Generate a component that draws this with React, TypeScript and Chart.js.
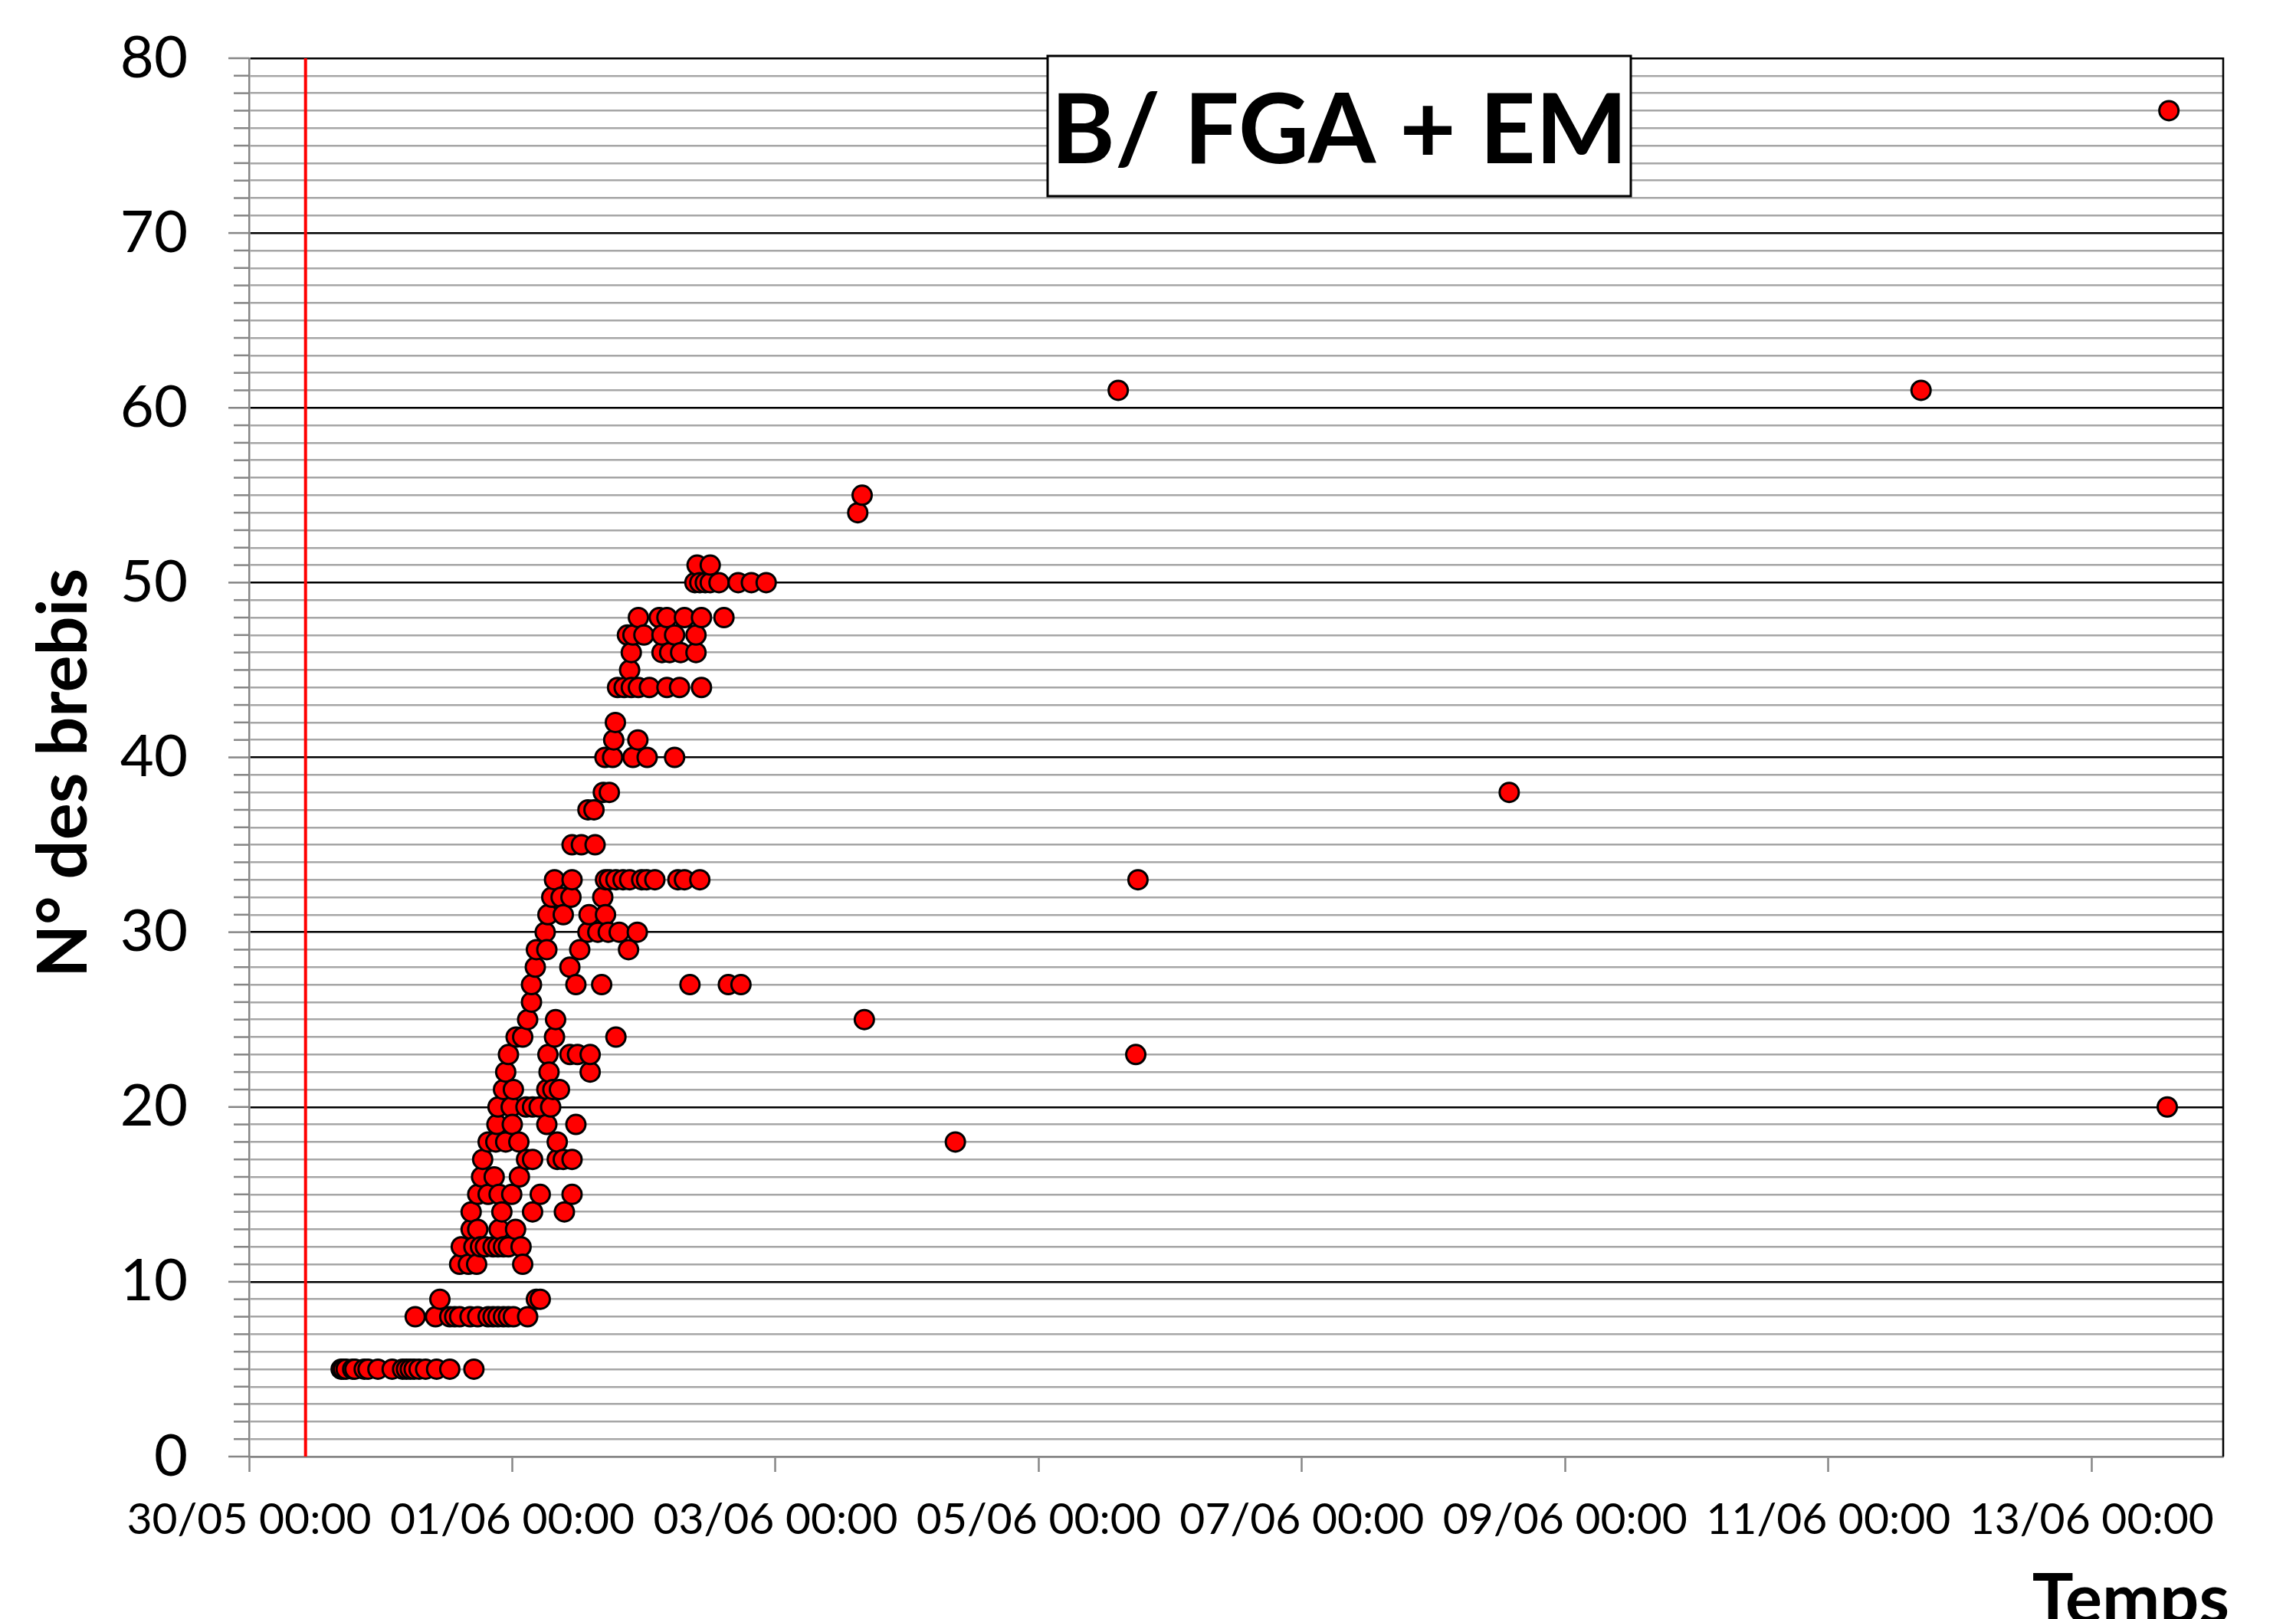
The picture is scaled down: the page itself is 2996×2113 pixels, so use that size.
import React, { useEffect, useRef } from 'react';
import { Chart, registerables } from 'chart.js';

Chart.register(...registerables);

// ---- Data (x = hours since 30/05 00:00, y = ewe number) ----
const EWE_IDS = [5, 8, 9, 11, 12, 13, 14, 15, 16, 17, 18, 19, 20, 21, 22, 23, 24, 25, 26, 27, 28, 29, 30, 31, 32, 33, 35, 37, 38, 40, 41, 42, 44, 45, 46, 47, 48, 50, 51, 54, 55, 61, 77];

const HOURS_BY_EWE: number[][] = [
  [16.8, 17.2, 17.7, 18.9, 19.3, 21.0, 21.7, 23.5, 26.1, 28.0, 28.7, 29.4, 30.1, 31.0, 32.2, 34.2, 36.6, 41.0], // 5
  [30.3, 34.0, 36.6, 37.5, 38.4, 40.3, 41.7, 43.6, 44.5, 45.4, 46.4, 47.3, 48.2, 50.8], // 8
  [34.8, 52.4, 53.1], // 9
  [38.4, 40.0, 41.5, 49.9], // 11
  [38.7, 41.0, 42.2, 43.1, 44.5, 45.4, 46.4, 47.3, 49.6], // 12
  [40.5, 41.7, 45.6, 48.6], // 13
  [40.5, 46.1, 51.7, 57.5], // 14
  [41.7, 43.6, 45.6, 47.9, 53.1, 58.9], // 15
  [42.4, 44.7, 49.3], // 16
  [42.6, 50.6, 51.7, 56.2, 57.3, 58.9], // 17
  [43.6, 45.0, 46.8, 49.2, 56.2, 128.8], // 18
  [45.2, 48.0, 54.3, 59.6], // 19
  [45.4, 47.8, 50.5, 51.7, 52.9, 55.0, 349.8], // 20
  [46.4, 48.2, 54.3, 55.4, 56.6], // 21
  [46.8, 54.7, 62.2], // 22
  [47.3, 54.5, 58.5, 59.9, 62.2, 161.7], // 23
  [48.7, 49.9, 55.7, 66.9], // 24
  [50.8, 55.9, 112.2], // 25
  [51.5], // 26
  [51.5, 59.6, 64.3, 80.4, 87.4, 89.7], // 27
  [52.2, 58.5], // 28
  [52.4, 54.3, 60.3, 69.2], // 29
  [54.0, 61.8, 63.6, 65.5, 67.5, 70.8], // 30
  [54.5, 57.3, 62.0, 65.0], // 31
  [55.2, 56.9, 58.7, 64.5], // 32
  [55.7, 58.9, 65.0, 65.7, 66.9, 68.2, 69.4, 71.6, 72.5, 74.0, 78.2, 79.4, 82.2, 162.1], // 33
  [58.9, 60.6, 63.1], // 35
  [61.8, 62.9], // 37
  [64.6, 65.7, 229.8], // 38
  [64.9, 66.3, 70.0, 72.6, 77.6], // 40
  [66.5, 70.9], // 41
  [66.8], // 42
  [67.2, 68.4, 69.7, 71.0, 73.0, 76.2, 78.5, 82.5], // 44
  [69.4], // 45
  [69.7, 75.3, 76.7, 78.7, 81.5], // 46
  [69.0, 70.0, 72.0, 75.3, 77.6, 81.5], // 47
  [71.0, 74.8, 76.2, 79.4, 82.5, 86.6], // 48
  [81.3, 82.2, 83.2, 84.1, 85.7, 89.2, 91.6, 94.3], // 50
  [81.7, 84.1], // 51
  [111.0], // 54
  [111.8], // 55
  [158.5, 304.9], // 61
  [350.1], // 77
];

const REFERENCE_LINE_HOURS = 10.3; // red vertical line (30/05 ~10:20)

const X_MIN = 0;
const X_MAX = 360;
const X_STEP = 48;
const X_TICK_LABELS = ['30/05 00:00', '01/06 00:00', '03/06 00:00', '05/06 00:00', '07/06 00:00', '09/06 00:00', '11/06 00:00', '13/06 00:00'];

const Y_MIN = 0;
const Y_MAX = 80;
const Y_MAJOR_STEP = 10;

const CHART_TITLE = 'B/ FGA + EM';
const Y_TITLE = 'N° des brebis';
const X_TITLE = 'Temps';

const W = 2996;
const H = 2113;
const Y_TICK_FONT = 76;

const decorPlugin = {
  id: 'decor',
  afterDraw(chart: any) {
    const { ctx, chartArea, scales } = chart;
    const ys = scales.y;
    ctx.save();
    // y tick marks (major longer than minor)
    ctx.strokeStyle = '#868686';
    ctx.lineWidth = 2.5;
    ys.ticks.forEach((t: any) => {
      const py = ys.getPixelForValue(t.value);
      const len = t.value % Y_MAJOR_STEP === 0 ? 27 : 20;
      ctx.beginPath();
      ctx.moveTo(chartArea.left - len, py);
      ctx.lineTo(chartArea.left, py);
      ctx.stroke();
    });
    // right border of plot area
    ctx.strokeStyle = '#000';
    ctx.lineWidth = 2.5;
    ctx.beginPath();
    ctx.moveTo(chartArea.right, chartArea.top - 1);
    ctx.lineTo(chartArea.right, chartArea.bottom);
    ctx.stroke();

    // title box
    const bx = 1367, by = 73, bw = 761, bh = 183;
    ctx.fillStyle = '#fff';
    ctx.fillRect(bx, by, bw, bh);
    ctx.strokeStyle = '#000';
    ctx.lineWidth = 3;
    ctx.strokeRect(bx, by, bw, bh);
    ctx.fillStyle = '#000';
    ctx.font = 'bold 127px Lato';
    ctx.textAlign = 'center';
    ctx.textBaseline = 'alphabetic';
    ctx.fillText(CHART_TITLE, bx + bw / 2, 213);

    // y axis title
    ctx.save();
    ctx.translate(113, 1009);
    ctx.rotate(-Math.PI / 2);
    ctx.font = 'bold 90px Lato';
    ctx.textAlign = 'center';
    ctx.fillText(Y_TITLE, 0, 0);
    ctx.restore();

    // x axis title (partly cut off by the bottom edge, as in the reference)
    ctx.font = 'bold 90px Lato';
    ctx.textAlign = 'right';
    ctx.fillText(X_TITLE, 2909, 2118);
    ctx.restore();
  },
};

export default function App() {
  const canvasRef = useRef<HTMLCanvasElement | null>(null);

  useEffect(() => {
    document.body.style.margin = '0';
    document.body.style.overflow = 'hidden';
    const canvas = canvasRef.current;
    if (!canvas) return;

    const points: { x: number; y: number }[] = [];
    EWE_IDS.forEach((id, i) => {
      HOURS_BY_EWE[i].forEach((h) => points.push({ x: h, y: id }));
    });
    points.sort((a, b) => a.x - b.x);

    const chart = new Chart(canvas, {
      type: 'scatter',
      data: {
        datasets: [
          {
            label: 'Ovulation',
            data: points,
            backgroundColor: '#ff0000',
            borderColor: '#000000',
            borderWidth: 3,
            pointRadius: 12.5,
            pointHoverRadius: 12.5,
            order: 0,
          },
          {
            type: 'line',
            label: 'Retrait',
            data: [
              { x: REFERENCE_LINE_HOURS, y: Y_MIN },
              { x: REFERENCE_LINE_HOURS, y: Y_MAX },
            ],
            borderColor: '#ff0000',
            borderWidth: 4,
            pointRadius: 0,
            showLine: true,
            fill: false,
            order: 1,
          } as any,
        ],
      },
      options: {
        animation: false,
        responsive: false,
        maintainAspectRatio: false,
        devicePixelRatio: 1,
        layout: { padding: { left: 0, top: 76, right: 95, bottom: 0 } },
        plugins: {
          legend: { display: false },
          tooltip: { enabled: false },
          title: { display: false },
        },
        scales: {
          x: {
            type: 'linear',
            min: X_MIN,
            max: X_MAX,
            afterBuildTicks: (scale: any) => {
              scale.ticks = scale.ticks.filter((t: any) => t.value % X_STEP === 0 && t.value < X_MAX);
            },
            afterFit: (scale: any) => {
              scale.height = H - 1901;
            },
            ticks: {
              stepSize: X_STEP,
              autoSkip: false,
              maxRotation: 0,
              minRotation: 0,
              padding: 28,
              color: '#000',
              font: { family: 'Lato', size: 57 },
              callback: (value: any) => {
                const idx = Math.round(Number(value) / X_STEP);
                return X_TICK_LABELS[idx] ?? '';
              },
            },
            grid: {
              drawOnChartArea: false,
              drawTicks: true,
              tickLength: 20,
              tickColor: '#868686',
              tickWidth: 2.5,
              color: '#868686',
            },
            border: { display: true, color: '#868686', width: 2.5 },
          },
          y: {
            type: 'linear',
            min: Y_MIN,
            max: Y_MAX,
            afterFit: (scale: any) => {
              scale.width = 325;
            },
            ticks: {
              stepSize: 1,
              autoSkip: false,
              maxTicksLimit: 1000,
              padding: 4,
              color: '#000',
              font: { family: 'Lato', size: Y_TICK_FONT },
              callback: (value: any) => (Number(value) % Y_MAJOR_STEP === 0 ? String(value) : ''),
            },
            grid: {
              drawTicks: true,
              tickLength: 76,
              tickColor: 'rgba(0,0,0,0)',
              color: (c: any) => {
                const v = c.tick ? c.tick.value : 1;
                if (v === Y_MIN) return '#868686';
                return v % Y_MAJOR_STEP === 0 ? '#000000' : '#a6a6a6';
              },
              lineWidth: 2.5,
            },
            border: { display: true, color: '#868686', width: 2.5 },
          },
        },
      },
      plugins: [decorPlugin],
    });

    return () => {
      chart.destroy();
    };
  }, []);

  return <canvas ref={canvasRef} width={W} height={H} style={{ display: 'block', width: W, height: H }} />;
}
